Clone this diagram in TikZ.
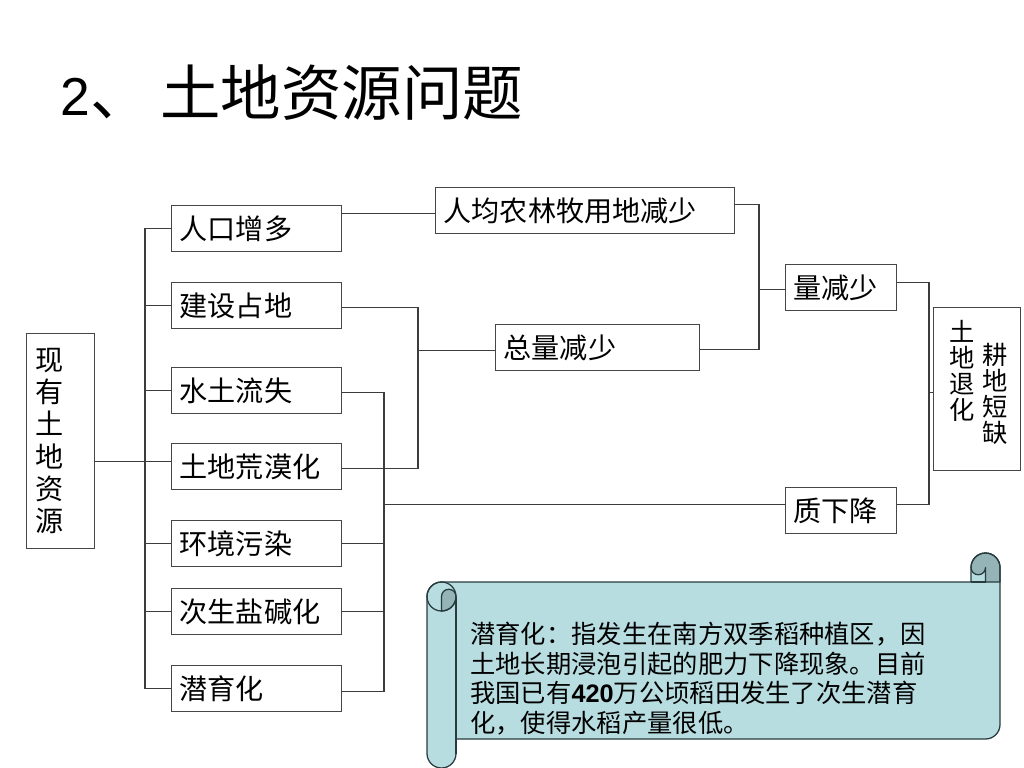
\documentclass[tikz,border=0pt]{standalone}
\usepackage{fontspec}
\setmainfont{Liberation Sans}
\newfontfamily\cjk{Noto Sans CJK SC}
\usetikzlibrary{calc}
\definecolor{boxgray}{RGB}{70,70,70}
\definecolor{linegray}{RGB}{60,60,60}
\definecolor{scrollfill}{RGB}{184,221,225}
\definecolor{scrollshade}{RGB}{148,180,184}
\definecolor{scrollline}{RGB}{40,60,62}
\newcommand\mytightlines{\lineskiplimit=-10pt\relax}
\begin{document}
\begin{tikzpicture}[x=0.025cm, y=-0.025cm,
  box/.style={draw=boxgray, line width=1pt, rectangle, inner xsep=0.2cm, inner ysep=0pt,
    minimum height=1.15cm, align=left, anchor=north west, text=black,
    font=\cjk\fontsize{20}{24}\selectfont},
  lbox/.style={box, text width=3.85cm},
  frame/.style={draw=boxgray, line width=1pt, rectangle, inner sep=0pt, anchor=north west},
  conn/.style={draw=linegray, line width=0.8pt},
  vlbl/.style={inner sep=0pt, align=center, text=black},
  stxt/.style={inner sep=0pt, anchor=base west, text=black, font=\cjk\fontsize{18}{21}\selectfont}
]
\fill[white] (0,0) rectangle (1024,768);
\useasboundingbox (0,0) rectangle (1024,768);

% title
\node[anchor=base west, inner sep=0pt] (title) at (60,116)
  {{\fontsize{38}{40}\selectfont 2}{\cjk\fontsize{43}{45}\selectfont 、\hspace{7pt}土地资源问题}};

% root box
\node[frame, minimum width=1.7cm, minimum height=5.375cm] (root) at (26,333) {};
\node[vlbl, font=\cjk\fontsize{20}{22.8}\selectfont] (rootlabel) at (50,441) {现\\有\\土\\地\\资\\源};

% left column
\node[lbox] (n1) at (171,205) {人口增多};
\node[lbox] (n2) at (171,282) {建设占地};
\node[lbox] (n3) at (171,367) {水土流失};
\node[lbox] (n4) at (171,443) {土地荒漠化};
\node[lbox] (n5) at (171,520) {环境污染};
\node[lbox] (n6) at (171,588) {次生盐碱化};
\node[lbox] (n7) at (171,665) {潜育化};

% middle / right
\node[box, text width=7.075cm] (A) at (435,187) {人均农林牧用地减少};
\node[box, text width=4.7cm] (B) at (495,324) {总量减少};
\node[box, text width=2.375cm] (C) at (785,264) {量减少};
\node[box, text width=2.375cm] (D) at (785,487) {质下降};
\node[frame, minimum width=2.175cm, minimum height=4.075cm] (E) at (933,307) {};
\node[vlbl, font=\cjk\fontsize{18}{18.6}\selectfont\mytightlines] (E1) at (962,371) {土\\地\\退\\化};
\node[vlbl, font=\cjk\fontsize{18}{18.6}\selectfont\mytightlines] (E2) at (995,394) {耕\\地\\短\\缺};

% bus coordinates
\coordinate (busL) at (145,0);
\coordinate (busM) at (418,0);
\coordinate (busB) at (384,0);
\coordinate (busR1) at (759,0);
\coordinate (busR2) at (929,0);

% attachment points (slightly off-centre, as in the reference)
\coordinate (n4w) at ($(n4.west)+(0,-5)$);
\coordinate (Aw) at ($(A.west)+(0,3)$);
\coordinate (Ae) at ($(A.east)+(0,-6)$);
\coordinate (Bw) at ($(B.west)+(0,3)$);
\coordinate (Be) at ($(B.east)+(0,2)$);
\coordinate (Cw) at ($(C.west)+(0,2)$);
\coordinate (Ce) at ($(C.east)+(0,-5)$);
\coordinate (Dw) at ($(D.west)+(0,-6)$);
\coordinate (De) at ($(D.east)+(0,-6)$);
\coordinate (Ew) at ($(E.west)+(0,3.5)$);
\coordinate (n3e) at ($(n3.east)+(0,2)$);
\coordinate (n7e) at ($(n7.east)+(0,3)$);
\coordinate (n2e) at ($(n2.east)+(0,2)$);
\coordinate (n4e) at ($(n4.east)+(0,2)$);

% connectors
\draw[conn] (n4w) -- (n4w -| root.east);
\draw[conn] (n1.west) -- (n1.west -| busL) -- (n7.west -| busL) -- (n7.west);
\foreach \n in {n2,n3,n5,n6} \draw[conn] (\n.west) -- (\n.west -| busL);

\draw[conn] (Aw) -- (Aw -| n1.east);
\draw[conn] (n2e) -- (n2e -| busM) -- (n4e -| busM) -- (n4e);
\draw[conn] (Bw) -- (Bw -| busM);
\draw[conn] (Ae) -- (Ae -| busR1) -- (Be -| busR1) -- (Be);
\draw[conn] (Cw) -- (Cw -| busR1);
\draw[conn] (Ce) -- (Ce -| busR2) -- (De -| busR2) -- (De);
\draw[conn] (Ew) -- (Ew -| busR2);
\draw[conn] (n3e) -- (n3e -| busB) -- (n7e -| busB) -- (n7e);
\draw[conn] (n5.east) -- (n5.east -| busB);
\draw[conn] (n6.east) -- (n6.east -| busB);
\draw[conn] (Dw) -- (Dw -| busB);

% scroll
\fill[scrollfill] (427,596.5) arc (180:270:14.5) -- (971,582) -- (971,567.5)
  arc (180:360:14.5) -- (1000,724.5) arc (0:90:14.5) -- (456,739) -- (456,753.5)
  arc (0:180:14.5) -- cycle;
\fill[scrollshade] (441.5,596.5) arc (180:360:7.25) arc (0:90:14.5) -- cycle;
\fill[scrollshade] (971,567.5) arc (180:360:14.5) -- (1000,582) -- (985.5,582)
  -- (985.5,567.5) arc (0:180:7.25) -- cycle;
\begin{scope}[draw=scrollline, line width=0.9pt, line join=round]
\draw (427,596.5) arc (180:270:14.5) -- (971,582) -- (971,567.5)
  arc (180:360:14.5) -- (1000,724.5) arc (0:90:14.5) -- (456,739) -- (456,753.5)
  arc (0:180:14.5) -- cycle;
\draw (441.5,596.5) circle (14.5);
\draw (441.5,596.5) arc (180:360:7.25) arc (0:90:14.5) -- cycle;
\draw (971,567.5) arc (180:360:14.5) -- (1000,582) -- (985.5,582)
  -- (985.5,567.5) arc (0:180:7.25) -- cycle;
\draw (971,582) -- (985.5,582);
\draw (456,596.5) -- (456,753.5);
\end{scope}

\node[stxt] (s1) at (470,643) {潜育化：指发生在南方双季稻种植区，因};
\node[stxt] (s2) at (470,673) {土地长期浸泡引起的肥力下降现象。目前};
\node[stxt] (s3) at (470,702) {我国已有{\rmfamily\bfseries 420}万公顷稻田发生了次生潜育};
\node[stxt] (s4) at (470,732) {化，使得水稻产量很低。};
\end{tikzpicture}
\end{document}
